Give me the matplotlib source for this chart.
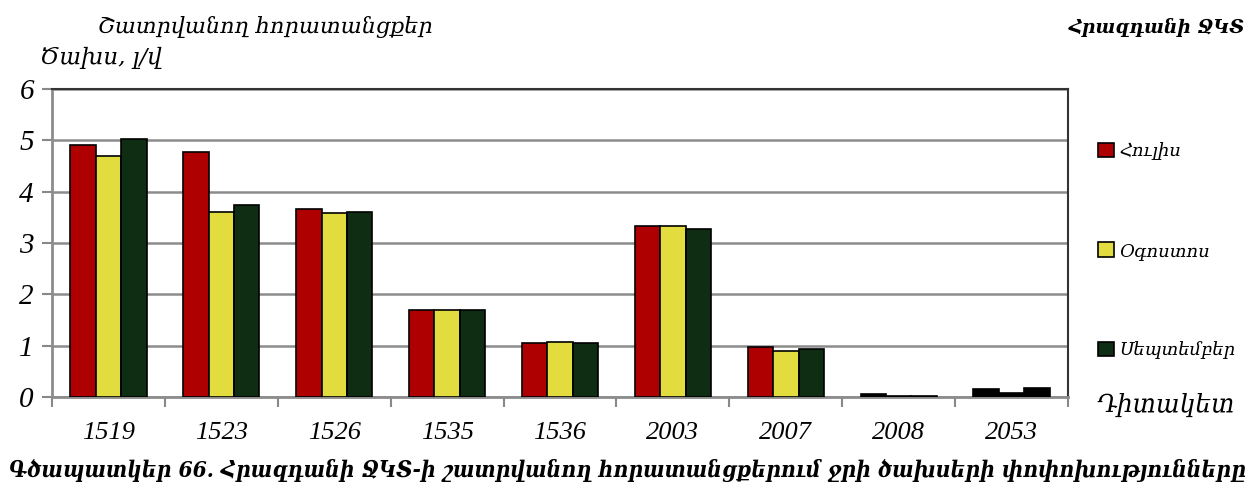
import numpy as np
import matplotlib.pyplot as plt
from matplotlib.patches import Patch

# Data
stations = ["1519", "1523", "1526", "1535", "1536", "2003", "2007", "2008", "2053"]
july = [4.91, 4.78, 3.66, 1.70, 1.05, 3.33, 0.97, 0.05, 0.15]
august = [4.70, 3.60, 3.59, 1.69, 1.07, 3.33, 0.90, 0.02, 0.07]
september = [5.03, 3.74, 3.60, 1.70, 1.05, 3.27, 0.93, 0.02, 0.17]
series_names = ["Հուլիս", "Օգոստոս", "Սեպտեմբեր"]
colors = ["#ae0000", "#e3dc3e", "#0e2d12"]

fam = ["Liberation Serif", "DejaVu Serif"]
arm = ["DejaVu Serif"]
arm_cond = ["DejaVu Serif Condensed", "DejaVu Serif"]

fig = plt.figure(figsize=(12.54, 4.95), dpi=100)
ax = fig.add_axes([0.0415, 0.198, 0.8102, 0.622])

x = np.arange(len(stations))
w = 0.225
for i, (vals, c) in enumerate(zip([july, august, september], colors)):
    fc = [c] * len(vals)
    # tiny bars on the last stations come out black in the original
    if i == 0:
        fc[7] = "black"
    fc[8] = "black"
    ax.bar(x + (i - 1) * w, vals, w, color=fc, edgecolor="black", linewidth=1.2, zorder=3)

ax.set_xlim(-0.5, len(stations) - 0.5)
ax.set_ylim(0, 6)
ax.set_yticks(range(7))
ax.set_yticklabels([str(v) for v in range(7)], family=fam, style="italic", fontsize=21)
ax.set_xticks(np.arange(-0.5, len(stations), 1))
ax.set_xticklabels([])
ax.set_xticks(x, minor=True)
ax.set_xticklabels(stations, minor=True, family=fam, style="italic", fontsize=19)
ax.tick_params(axis="x", which="minor", length=0, pad=18)
ax.tick_params(axis="x", which="major", length=7, color="#888888", width=1.5)
ax.tick_params(axis="y", length=7, color="#888888", width=1.5, pad=6)

ax.grid(axis="y", color="#8c8c8c", linewidth=1.8, zorder=0)
for s in ["left", "bottom"]:
    ax.spines[s].set_color("#8c8c8c")
    ax.spines[s].set_linewidth(2)
for s in ["top", "right"]:
    ax.spines[s].set_color("#333333")
    ax.spines[s].set_linewidth(1.5)

handles = [Patch(facecolor=c, edgecolor="black", linewidth=1.2) for c in colors]
leg = fig.legend(handles, series_names, loc="upper left", bbox_to_anchor=(0.863, 0.745),
                 frameon=False, labelspacing=4.5, handlelength=0.85, handleheight=0.85,
                 handletextpad=0.3, prop={"family": arm, "style": "italic", "size": 13})

fig.text(0.078, 0.945, "Շատրվանող հորատանցքեր", family=arm, style="italic", fontsize=16, va="center")
fig.text(0.032, 0.883, "Ծախս, լ/վ", family=arm, style="italic", fontsize=16.5, va="center")
fig.text(0.993, 0.945, "Հրազդանի ՋԿՏ", family=arm, style="italic", weight="bold", fontsize=13.5,
         ha="right", va="center")
fig.text(0.985, 0.182, "Դիտակետ", family=arm, style="italic", fontsize=18, ha="right", va="center")
fig.text(0.5, 0.05, "Գծապատկեր 66. Հրազդանի ՋԿՏ-ի շատրվանող հորատանցքերում ջրի ծախսերի փոփոխությունները",
         family=arm_cond, style="italic", weight="bold", stretch="condensed", fontsize=16.3,
         ha="center", va="center")

fig.savefig("out.png", dpi=100)
